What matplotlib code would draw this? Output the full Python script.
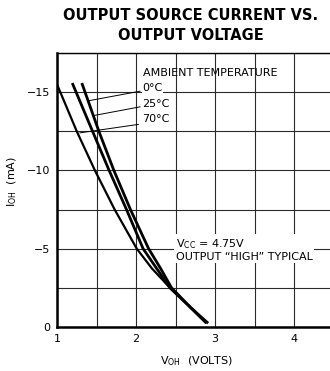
import numpy as np
import matplotlib
matplotlib.use('Agg')
import matplotlib.pyplot as plt

# ---- source current vs. output voltage, three ambient temperatures
v_70c  = [1.00, 1.25, 1.48, 1.73, 2.01, 2.20, 2.43, 2.68, 2.87]
i_70c  = [-15.5, -12.5, -10.0, -7.5, -5.0, -3.75, -2.5, -1.3, -0.35]

v_25c  = [1.20, 1.45, 1.66, 1.88, 2.09, 2.26, 2.43, 2.68, 2.88]
i_25c  = [-15.5, -12.5, -10.0, -7.5, -5.0, -3.75, -2.5, -1.3, -0.3]

v_0c   = [1.32, 1.53, 1.72, 1.93, 2.16, 2.31, 2.45, 2.69, 2.90]
i_0c   = [-15.5, -12.5, -10.0, -7.5, -5.0, -3.75, -2.5, -1.25, -0.3]

temp_labels = ["0°C", "25°C", "70°C"]
label_y = [-15.25, -14.25, -13.3]
# leader lines: (label end, curve end) in volts / mA
leaders = [((2.05, -15.06), (1.39, -14.44)),
           ((2.05, -14.06), (1.46, -13.50)),
           ((2.03, -12.94), (1.29, -12.40))]

xticks = [1, 2, 3, 4]
yticks = [0, -5, -10, -15]

# ---- figure
fig = plt.figure(figsize=(3.30, 3.71), dpi=100)
ax = fig.add_axes([57/330, 44/371, 276.5/330, 274/371])

ax.set_xlim(1, 4.5)
ax.set_ylim(0, -17.5)

ax.set_xticks(np.arange(1, 4.51, 0.5), minor=True)
ax.set_yticks(np.arange(0, -17.6, -2.5), minor=True)
ax.set_xticks(xticks)
ax.set_yticks(yticks)
ax.set_xticklabels([str(t) for t in xticks])
ax.set_yticklabels(["0", "\u22125", "\u221210", "\u221215"])
ax.grid(True, which='both', color='#2a2a2a', linewidth=0.8)
ax.tick_params(which='both', length=0, labelsize=8, pad=5)
ax.set_axisbelow(True)

for s in ['left', 'bottom']:
    ax.spines[s].set_linewidth(1.8)
ax.spines['top'].set_linewidth(1.0)
ax.spines['right'].set_visible(False)

ax.plot(v_70c, i_70c, '-', color='black', linewidth=1.6, solid_joinstyle='round')
ax.plot(v_25c, i_25c, '-', color='black', linewidth=2.0, solid_joinstyle='round')
ax.plot(v_0c,  i_0c,  '-', color='black', linewidth=2.0, solid_joinstyle='round')

for (p0, p1) in leaders:
    ax.plot([p0[0], p1[0]], [p0[1], p1[1]], '-', color='black', linewidth=0.7)

ax.text(2.09, -16.25, "AMBIENT TEMPERATURE", fontsize=8, ha='left', va='center')
for lab, yy in zip(temp_labels, label_y):
    ax.text(2.08, yy, lab, fontsize=8, ha='left', va='center',
            bbox=dict(facecolor='white', edgecolor='none', pad=0.5))

ax.text(2.50, -4.95, "V$_{\\mathregular{CC}}$ = 4.75V\nOUTPUT \u201cHIGH\u201d TYPICAL",
        fontsize=8, ha='left', va='center', linespacing=1.1,
        bbox=dict(facecolor='white', edgecolor='none', pad=1.0))

fig.text(12/330, 1 - 182/371, "I$_{\\mathregular{OH}}$  (mA)", rotation=90,
         fontsize=8, ha='center', va='center')
fig.text(197/330, 1 - 361/371, "V$_{\\mathregular{OH}}$  (VOLTS)",
         fontsize=8, ha='center', va='center')

fig.text(191/330, 1 - 15/371, "OUTPUT SOURCE CURRENT VS.", fontsize=10.5,
         fontweight='bold', ha='center', va='center')
fig.text(191/330, 1 - 36/371, "OUTPUT VOLTAGE", fontsize=10.5,
         fontweight='bold', ha='center', va='center')

fig.savefig("out.png", dpi=100)
